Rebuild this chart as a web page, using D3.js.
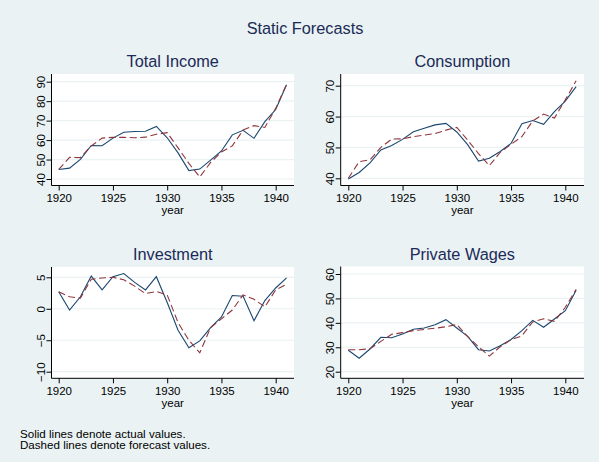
<!DOCTYPE html>
<html>
<head>
<meta charset="utf-8">
<script src="https://cdn.jsdelivr.net/npm/d3@7"></script>
<style>
  body { margin: 0; background: #eaf2f3; }
  svg { display: block; font-family: "Liberation Sans", Arial, sans-serif; }
</style>
</head>
<body>
<svg id="chart" width="599" height="462"></svg>
<script>
// years 1920-1941
var years = d3.range(1920, 1942);

// actual values
var incomeActual = [44.9, 45.6, 50.1, 57.2, 57.1, 61.0, 64.0, 64.4, 64.5, 67.0, 61.2, 53.4, 44.3, 45.1, 49.7, 54.4, 62.7, 65.0, 60.9, 69.5, 75.7, 88.4];
var consActual = [39.8, 41.9, 45.0, 49.2, 50.6, 52.6, 55.1, 56.2, 57.3, 57.8, 55.0, 50.9, 45.6, 46.5, 48.7, 51.3, 57.7, 58.7, 57.5, 61.6, 65.0, 69.7];
var invActual = [2.7, -0.2, 1.9, 5.2, 3.0, 5.1, 5.6, 4.2, 3.0, 5.1, 1.0, -3.4, -6.2, -5.1, -3.0, -1.3, 2.1, 2.0, -1.9, 1.3, 3.3, 4.9];
var wageActual = [28.8, 25.5, 29.3, 34.1, 33.9, 35.4, 37.4, 37.9, 39.2, 41.3, 37.9, 34.5, 29.0, 28.5, 30.6, 33.2, 36.8, 41.0, 38.2, 41.6, 45.0, 53.3];

// static forecasts
var incomeFcast = [44.9, 51.1, 51.0, 57.0, 61.0, 61.4, 61.4, 61.2, 61.5, 63.0, 63.8, 56.0, 48.0, 41.0, 48.5, 53.9, 57.0, 65.2, 67.4, 66.5, 76.3, 88.6];
var consFcast = [40.0, 45.4, 46.0, 50.0, 52.7, 52.8, 53.5, 54.0, 54.5, 55.6, 56.5, 52.4, 48.0, 44.1, 48.4, 51.0, 53.5, 58.6, 60.8, 59.5, 65.4, 71.6];
var invFcast = [2.7, 1.9, 1.7, 4.7, 4.9, 5.0, 4.6, 3.6, 2.4, 2.75, 2.2, -2.2, -5.0, -7.0, -3.0, -1.6, -0.2, 2.2, 1.5, 0.3, 3.0, 3.9];
var wageFcast = [29.0, 29.0, 29.4, 32.4, 35.3, 36.0, 36.8, 37.3, 37.8, 38.4, 39.3, 34.4, 30.2, 26.4, 30.2, 33.1, 34.7, 40.4, 41.7, 40.6, 46.4, 53.7];

// axis ticks
var xTicks = [1920, 1925, 1930, 1935, 1940];
var incomeTicks = [40, 50, 60, 70, 80, 90];
var consTicks = [40, 50, 60, 70];
var invTicks = [-10, -5, 0, 5];
var wageTicks = [20, 30, 40, 50, 60];

var panelTitles = ["Total Income", "Consumption", "Investment", "Private Wages"];
var notes = ["Solid lines denote actual values.", "Dashed lines denote forecast values."];

var svg = d3.select("#chart");

// main title
svg.append("text")
    .attr("x", 305).attr("y", 33.5)
    .attr("text-anchor", "middle")
    .style("font-size", "16.3px")
    .style("fill", "#1b2a58")
    .text("Static Forecasts");

var panels = [
  { title: panelTitles[0], actual: incomeActual, fcast: incomeFcast, ticks: incomeTicks,
    box: [51.5, 294, 74, 185.5], xr: [58.7, 275.7], yd: [40, 90], yr: [179, 81.7] },
  { title: panelTitles[1], actual: consActual, fcast: consFcast, ticks: consTicks,
    box: [340.7, 584, 74, 185.5], xr: [348.3, 565.3], yd: [40, 70], yr: [178.3, 85.7] },
  { title: panelTitles[2], actual: invActual, fcast: invFcast, ticks: invTicks,
    box: [51.5, 294, 267, 378.3], xr: [58.7, 275.7], yd: [-10, 5], yr: [371.7, 277.3] },
  { title: panelTitles[3], actual: wageActual, fcast: wageFcast, ticks: wageTicks,
    box: [340.7, 584, 266.5, 378.3], xr: [348.3, 565.3], yd: [20, 60], yr: [371.7, 274] }
];

panels.forEach(function(p) {
  var x0 = p.box[0], x1 = p.box[1], y0 = p.box[2], y1 = p.box[3];
  var x = d3.scaleLinear().domain([1920, 1940]).range(p.xr);
  var y = d3.scaleLinear().domain(p.yd).range(p.yr);
  var g = svg.append("g");

  // plot region
  g.append("rect")
      .attr("x", x0).attr("y", y0)
      .attr("width", x1 - x0).attr("height", y1 - y0)
      .attr("fill", "#fff");

  // gridlines
  g.selectAll(".grid")
      .data(p.ticks)
      .enter().append("line")
      .attr("x1", x0).attr("x2", x1)
      .attr("y1", function(d) { return y(d); })
      .attr("y2", function(d) { return y(d); })
      .attr("stroke", "#eaf2f3")
      .attr("stroke-width", 1.2);

  // panel title
  g.append("text")
      .attr("x", (x0 + x1) / 2).attr("y", y0 - 6.8)
      .attr("text-anchor", "middle")
      .style("font-size", "16.3px")
      .style("fill", "#1b2a58")
      .text(p.title);

  // y axis
  var yAxis = g.append("g")
      .attr("transform", "translate(" + x0 + ",0)")
      .call(d3.axisLeft(y).tickValues(p.ticks).tickSize(5)
        .tickFormat(function(d) { return d < 0 ? "\u2212" + Math.abs(d) : d; }));
  yAxis.select(".domain").attr("d", "M0," + y0 + "V" + y1);
  yAxis.selectAll("text")
      .attr("transform", "rotate(-90)")
      .attr("x", 0).attr("y", -7).attr("dy", 0)
      .attr("text-anchor", "middle")
      .style("font-size", "11.5px")
      .style("fill", "#000");

  // x axis
  var xAxis = g.append("g")
      .attr("transform", "translate(0," + y1 + ")")
      .call(d3.axisBottom(x).tickValues(xTicks).tickSize(5).tickFormat(d3.format("d")));
  xAxis.select(".domain").attr("d", "M" + x0 + ",0H" + x1);
  xAxis.selectAll("text")
      .attr("y", 16.3).attr("dy", 0)
      .style("font-size", "11.5px")
      .style("fill", "#000");

  g.selectAll(".domain, .tick line").attr("stroke", "#000").attr("stroke-width", 1);

  g.append("text")
      .attr("x", (x0 + x1) / 2).attr("y", y1 + 28.5)
      .attr("text-anchor", "middle")
      .style("font-size", "11.5px")
      .text("year");

  var line = d3.line()
      .x(function(d, i) { return x(years[i]); })
      .y(function(d) { return y(d); });

  g.append("path")
      .datum(p.actual)
      .attr("d", line)
      .attr("fill", "none")
      .attr("stroke", "#1a476f")
      .attr("stroke-width", 1.1);

  g.append("path")
      .datum(p.fcast)
      .attr("d", line)
      .attr("fill", "none")
      .attr("stroke", "#90353b")
      .attr("stroke-width", 1.1)
      .attr("stroke-dasharray", "7,3.5");
});

// note
svg.selectAll(".note")
    .data(notes)
    .enter().append("text")
    .attr("x", 20)
    .attr("y", function(d, i) { return 437.5 + i * 11.5; })
    .style("font-size", "11.6px")
    .text(function(d) { return d; });
</script>
</body>
</html>
